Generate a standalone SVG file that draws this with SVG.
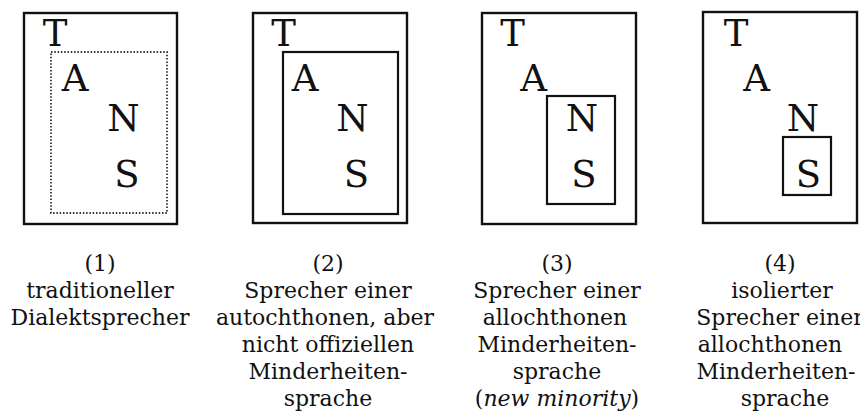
<svg xmlns="http://www.w3.org/2000/svg" width="860" height="414" viewBox="0 0 860 414">
<style>
.outer{fill:none;stroke:#111;stroke-width:2.4}
.inner{fill:none;stroke:#111;stroke-width:2.2}
.dotted{fill:none;stroke:#333;stroke-width:1.8;stroke-dasharray:1.5 1.8}
.big{font-family:"DejaVu Serif","Liberation Serif",serif;font-size:37px;fill:#111;text-anchor:middle}
.cap{font-family:"DejaVu Serif","Liberation Serif",serif;font-size:22px;fill:#111;text-anchor:middle}
</style>
<rect width="860" height="414" fill="#fff"/>
<g id="panel1">
<rect class="outer" x="24" y="13" width="153" height="211"/>
<rect class="dotted" x="51" y="52" width="116" height="161"/>
<text class="big" x="55" y="46">T</text>
<text class="big" x="75" y="91">A</text>
<text class="big" x="123.5" y="131">N</text>
<text class="big" x="127" y="187">S</text>
<g class="cap">
<text x="100" y="271">(1)</text>
<text x="100" y="298">traditioneller</text>
<text x="100" y="325">Dialektsprecher</text>
</g>
</g>
<g id="panel2">
<rect class="outer" x="253" y="13" width="154" height="210"/>
<rect class="inner" x="283" y="52" width="115" height="162"/>
<text class="big" x="283.5" y="46">T</text>
<text class="big" x="305" y="91">A</text>
<text class="big" x="352.5" y="131">N</text>
<text class="big" x="356.5" y="187">S</text>
<g class="cap">
<text x="328" y="271">(2)</text>
<text x="328" y="298">Sprecher einer</text>
<text x="325" y="325">autochthonen, aber</text>
<text x="328" y="352">nicht offiziellen</text>
<text x="328" y="379">Minderheiten-</text>
<text x="328" y="406">sprache</text>
</g>
</g>
<g id="panel3">
<rect class="outer" x="482" y="13" width="154" height="211"/>
<rect class="inner" x="547" y="96" width="68" height="108"/>
<text class="big" x="512.5" y="46">T</text>
<text class="big" x="533.5" y="91">A</text>
<text class="big" x="582" y="131">N</text>
<text class="big" x="584" y="187">S</text>
<g class="cap">
<text x="557" y="271">(3)</text>
<text x="557" y="298">Sprecher einer</text>
<text x="555" y="325">allochthonen</text>
<text x="557" y="352">Minderheiten-</text>
<text x="557" y="379">sprache</text>
<text x="557" y="406">(<tspan font-style="italic">new minority</tspan>)</text>
</g>
</g>
<g id="panel4">
<rect class="outer" x="703" y="12" width="154" height="211"/>
<rect class="inner" x="783" y="137" width="48" height="58"/>
<text class="big" x="736" y="46">T</text>
<text class="big" x="756.5" y="91">A</text>
<text class="big" x="803" y="131">N</text>
<text class="big" x="808.5" y="187">S</text>
<g class="cap">
<text x="780" y="271">(4)</text>
<text x="782" y="298">isolierter</text>
<text x="780" y="325">Sprecher einer</text>
<text x="770" y="352">allochthonen</text>
<text x="776" y="379">Minderheiten-</text>
<text x="785" y="406">sprache</text>
</g>
</g>
</svg>
